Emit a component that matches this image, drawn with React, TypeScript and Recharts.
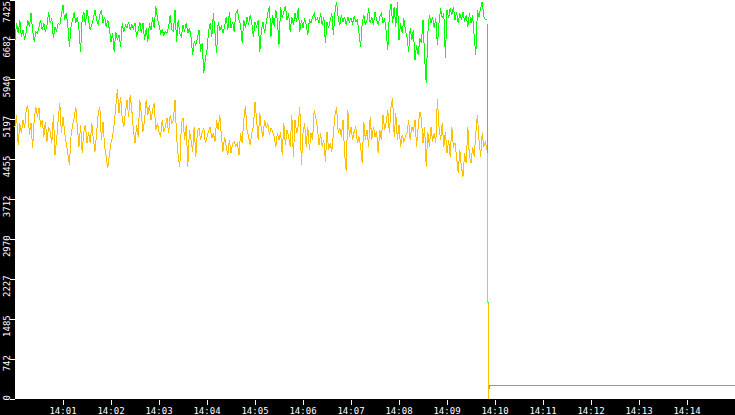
import React from 'react';
import { LineChart, Line, XAxis, YAxis, CartesianGrid } from 'recharts';

// seconds after 14:00:00 between two samples
const SAMPLE_STEP = 2;

const green1 = [
  6681, 6991, 6805, 7053, 6743, 6867, 6681, 6836, 7053, 6929,
  7177, 6867, 6650, 6836, 6805, 6929, 7053, 6867, 6991, 6836,
  6960, 7208, 6991, 7084, 6712, 6929, 6836, 6991, 6960, 7146,
  7332, 7053, 7177, 6960, 6557, 6929, 7053, 7208, 6991, 7115,
  6867, 6464, 7084, 7208, 6960, 7239, 7053, 6867, 6960, 7084,
  7239, 7053, 6960, 7146, 7239, 6991, 7115, 6929, 7053, 6867,
  6650, 6805, 6464, 6836, 6681, 6774, 6557, 6991, 6836, 6960,
  6898, 7022, 6867, 6960, 6898, 6991, 6743, 6867, 7022, 6805,
  6991, 6681, 6898, 6650, 6991, 6867, 7115, 6898, 7313, 7084,
  6960, 6805, 6867, 6774, 6836, 6805, 6929, 7146, 6867,
];
const green2 = [
  6836, 7239, 6650, 7053, 6805, 6743, 6960, 6836, 6991, 6805,
  6898, 6743, 6402, 6650, 6588, 6712, 6867, 6464, 6619, 6061,
  6340, 6495, 6836, 6991, 6743, 7177, 6805, 6433, 7022, 6867,
  6929, 6805, 6929, 7115, 6867, 7208, 6898, 7022, 6836, 7177,
  7239, 7053, 6960, 6619, 7053, 6898, 7115, 6960, 7146, 6991,
  6743, 7022, 6929, 7053, 6464, 6867, 7022, 6805, 6991, 7177,
  7313, 6743, 7146, 6929, 7239, 7053, 6588, 7301, 7084, 7208,
  7313, 7053, 7177, 6836, 7115, 6960, 7177, 7022, 7270, 6836,
  7053, 6898, 7084, 6960, 6774, 7053, 6991, 7115, 7177, 7053,
  7084, 6991, 7177, 6960, 7115, 6619, 7022, 6898,
];
const green3 = [
  7053, 7177, 6774, 7208, 7394, 7084, 6960, 7146, 7022, 7115,
  6960, 7115, 7022, 7084, 6991, 7115, 7022, 7053, 6805, 6557,
  6991, 7146, 6960, 7053, 7270, 6991, 7115, 6960, 7208, 7053,
  6960, 7115, 7177, 6991, 7084, 6836, 6495, 7177, 7351, 6991,
  7301, 6929, 7394, 6681, 6991, 6805, 7084, 6867, 6743, 6464,
  6898, 6681, 6867, 6309, 6588, 6402, 6712, 6619, 7053, 6371,
  5875, 6805, 7146, 6991, 7115, 6898, 7084, 6588, 6991, 7270,
  7084, 7177, 6340, 7239, 7084, 7270, 7146, 7301, 7053, 7208,
  6991, 7177, 7053, 7208, 7022, 7146, 6929, 7177, 6991, 7146,
  6743, 6402, 7239, 7115, 7270, 7394, 7115, 7053, 7053,
];

const orange1 = [
  5069, 5286, 4728, 5131, 4945, 5193, 5038, 5379, 5472, 4914,
  5131, 4666, 5193, 5441, 5255, 5410, 5069, 5193, 4883, 5162,
  4790, 5069, 4976, 4759, 5286, 4542, 4821, 5193, 5503, 4945,
  5255, 4976, 4759, 4573, 4356, 4883, 5100, 5224, 5441, 5038,
  4697, 5100, 4573, 4976, 5100, 4759, 4976, 4759, 5131, 4821,
  4604, 4945, 5317, 5441, 4821, 5162, 4697, 4511, 4294, 4542,
  4759, 4883, 5131, 5441, 5763, 5317, 5627, 5224, 5069, 5317,
  5565, 5255, 5658, 5379, 5007, 4759, 5100, 4883, 5565, 5286,
  4976, 5193, 5565, 5286, 5472, 5193, 5379, 5503, 5007, 5131,
  4976, 4883, 5193, 4976, 5069, 5224, 4945, 5286, 5131,
];
const orange2 = [
  5193, 5565, 4883, 4511, 4325, 5131, 5224, 4821, 5100, 4325,
  5007, 4821, 4604, 5069, 4511, 4976, 5038, 4821, 4976, 5038,
  4759, 4883, 4976, 5069, 4852, 4945, 4790, 5193, 5007, 5286,
  4883, 4604, 4883, 4697, 4542, 4821, 4573, 4759, 4790, 4697,
  4759, 4542, 4945, 4759, 5193, 5453, 5007, 4883, 4728, 4945,
  5069, 5534, 5193, 4821, 5317, 5007, 4883, 5193, 5038, 5131,
  4914, 5038, 4976, 4883, 4697, 4945, 4821, 4976, 4542, 5131,
  4728, 5007, 4883, 4697, 5286, 4511, 5193, 4945, 5069, 5441,
  4356, 4945, 5131, 4697, 5069, 4635, 4945, 4821, 5379, 5224,
  5069, 4728, 4945, 4697, 4821, 4418, 4976, 4635,
];
const orange3 = [
  4759, 4604, 4945, 5286, 5429, 4945, 5038, 4883, 5193, 4573,
  4251, 5379, 4883, 5069, 4821, 4976, 5069, 4759, 4883, 4697,
  4387, 5162, 4821, 5007, 4697, 5255, 4821, 5069, 4883, 4976,
  4573, 5007, 4821, 5286, 5007, 5162, 5379, 4945, 5441, 5596,
  4883, 5317, 4821, 5100, 4697, 4914, 4790, 4883, 4945, 5193,
  4821, 5069, 4976, 5193, 4697, 5069, 5348, 5224, 4759, 5069,
  4325, 4976, 4697, 5069, 4790, 4945, 4759, 5584, 5069, 4821,
  5131, 4697, 4976, 4573, 4821, 4511, 5069, 4697, 4759, 4511,
  4201, 4635, 4325, 4139, 4573, 4387, 5069, 4511, 4387, 4697,
  4511, 4945, 5286, 4821, 4511, 4945, 4697, 4790, 4635,
];

// the drop at 14:09:50 and the flat tail afterwards
const tailTimes = [591, 592, 593, 900];
const tailGreen = [2400, 130, 250, 250];
const tailOrange: (number | null)[] = [2400, 0, null, null];

const xTicks = [60, 120, 180, 240, 300, 360, 420, 480, 540, 600, 660, 720, 780, 840];
const xTickLabels = ['14:01', '14:02', '14:03', '14:04', '14:05', '14:06', '14:07', '14:08', '14:09', '14:10', '14:11', '14:12', '14:13', '14:14'];
const yTicks = [0, 742.5, 1485, 2227.5, 2970, 3712.5, 4455, 5197.5, 5940, 6682.5, 7425];

const greenAll = [...green1, ...green2, ...green3];
const orangeAll = [...orange1, ...orange2, ...orange3];

const data = [
  ...greenAll.map((g, i) => ({ t: i * SAMPLE_STEP, green: g, orange: orangeAll[i] })),
  ...tailTimes.map((t, i) => ({ t, green: tailGreen[i], orange: tailOrange[i] })),
];

const FONT = '"DejaVu Sans Mono", monospace';

const YTick = (props: any) => {
  const { x, y, payload } = props;
  // keep the top label inside the picture
  const ty = Math.max(y - 4, 1);
  return (
    <g>
      <line x1={x - 5} x2={x} y1={y} y2={y} stroke="#fff" />
      <text
        transform={`translate(${x - 5.5},${ty}) rotate(-90)`}
        textAnchor="end"
        fill="#fff"
        fontSize={9}
        fontFamily={FONT}
      >
        {Math.floor(payload.value)}
      </text>
    </g>
  );
};

const XTick = (props: any) => {
  const { x, y, payload } = props;
  const idx = xTicks.indexOf(payload.value);
  return (
    <g>
      <line x1={x} x2={x} y1={y + 1} y2={y + 6} stroke="#fff" />
      <text x={x} y={y + 14.5} textAnchor="middle" fill="#fff" fontSize={9} fontFamily={FONT}>
        {xTickLabels[idx]}
      </text>
    </g>
  );
};

const App: React.FC = () => {
  return (
    <div
      style={{
        position: 'absolute',
        left: 0,
        top: 0,
        width: 735,
        height: 415,
        background: '#000',
        shapeRendering: 'crispEdges',
      }}
    >
      <LineChart width={735} height={415} data={data} margin={{ top: 0, right: 0, bottom: 0, left: 0 }}>
        <CartesianGrid fill="#fff" horizontal={false} vertical={false} stroke="none" />
        <XAxis
          dataKey="t"
          type="number"
          domain={[0, 900]}
          ticks={xTicks}
          interval={0}
          height={16}
          axisLine={false}
          tickLine={false}
          tickSize={0}
          tickMargin={0}
          tick={<XTick />}
        />
        <YAxis
          type="number"
          domain={[0, 7425]}
          ticks={yTicks}
          interval={0}
          width={15}
          axisLine={false}
          tickLine={false}
          tickSize={0}
          tickMargin={0}
          tick={<YTick />}
        />
        <Line type="linear" dataKey="green" stroke="#00ff00" strokeWidth={1} dot={false} isAnimationActive={false} />
        <Line type="linear" dataKey="orange" stroke="#ffc000" strokeWidth={1} dot={false} isAnimationActive={false} />
      </LineChart>
    </div>
  );
};

export default App;
